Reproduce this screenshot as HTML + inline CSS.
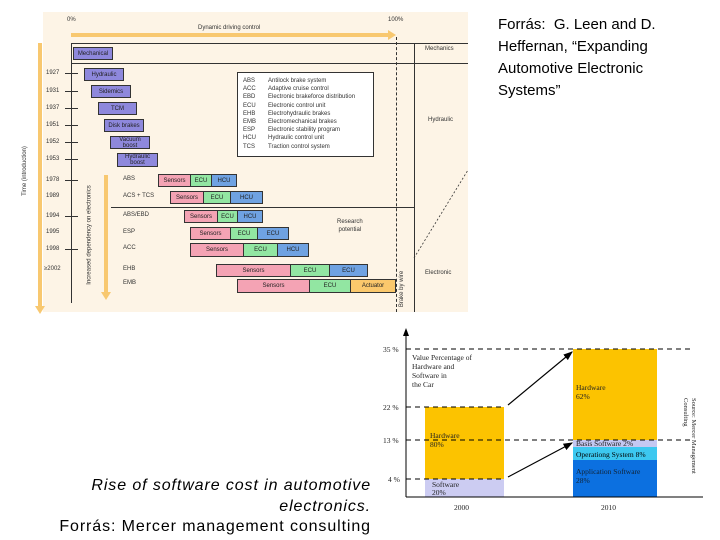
<!DOCTYPE html>
<html><head><meta charset="utf-8"><style>
*{margin:0;padding:0;box-sizing:border-box}
body{width:720px;height:540px;background:#fff;position:relative;overflow:hidden;font-family:"Liberation Sans",sans-serif}
.a{position:absolute}
.b{position:absolute;border:1px solid #333;font-size:6px;display:flex;align-items:center;justify-content:center;color:#222;line-height:6px;text-align:center}
.p{background:#8e88dc}.s{background:#f4a3b4}.g{background:#92e6a2}.u{background:#6fa2e2}.o{background:#fbc86c}
.t{position:absolute;font-size:6px;color:#333;white-space:nowrap}
</style></head><body>
<div class="a" style="left:43px;top:12px;width:425px;height:300px;background:#fdf4e6"></div>
<div class="t" style="left:67px;top:17px">0%</div>
<div class="t" style="left:388px;top:17px">100%</div>
<div class="t" style="left:198px;top:25px">Dynamic driving control</div>
<div class="a" style="left:71px;top:33px;width:318px;height:4px;background:#f8c870"></div>
<div class="a" style="left:388px;top:30px;width:0;height:0;border-left:8px solid #f8c870;border-top:5px solid transparent;border-bottom:5px solid transparent"></div>
<div class="a" style="left:71px;top:43px;width:397px;height:1px;background:#333"></div>
<div class="a" style="left:71px;top:63px;width:397px;height:1px;background:#333"></div>
<div class="a" style="left:71px;top:43px;width:1px;height:260px;background:#333"></div>
<div class="a" style="left:414px;top:43px;width:1px;height:269px;background:#333"></div>
<div class="a" style="left:396px;top:37px;width:0;height:275px;border-left:1px dashed #333"></div>
<div class="a" style="left:111px;top:207px;width:303px;height:1px;background:#333"></div>
<svg class="a" style="left:0;top:0" width="470" height="320"><line x1="414" y1="258" x2="468" y2="170" stroke="#333" stroke-width="0.8" stroke-dasharray="2,2"/></svg>
<div class="t" style="left:425px;top:46px">Mechanics</div>
<div class="t" style="left:428px;top:117px">Hydraulic</div>
<div class="t" style="left:425px;top:270px">Electronic</div>
<div class="t" style="left:337px;top:218px;text-align:center;line-height:8px">Research<br>potential</div>
<div class="t" style="left:384px;top:286px;transform:rotate(-90deg)">Brake by wire</div>
<div class="a" style="left:38px;top:43px;width:4px;height:264px;background:#f8c870"></div>
<div class="a" style="left:35px;top:306px;border-top:8px solid #f8c870;border-left:5px solid transparent;border-right:5px solid transparent"></div>
<div class="t" style="left:0px;top:168px;transform:rotate(-90deg)">Time (introduction)</div>
<div class="a" style="left:104px;top:175px;width:4px;height:118px;background:#f8c870"></div>
<div class="a" style="left:101px;top:292px;border-top:8px solid #f8c870;border-left:5px solid transparent;border-right:5px solid transparent"></div>
<div class="t" style="left:40px;top:232px;transform:rotate(-90deg)">Increased dependency on electronics</div>
<div class="t" style="left:46px;top:70px">1927</div><div class="a" style="left:65px;top:73px;width:13px;height:1px;background:#333"></div>
<div class="t" style="left:46px;top:88px">1931</div><div class="a" style="left:65px;top:91px;width:13px;height:1px;background:#333"></div>
<div class="t" style="left:46px;top:105px">1937</div><div class="a" style="left:65px;top:108px;width:13px;height:1px;background:#333"></div>
<div class="t" style="left:46px;top:122px">1951</div><div class="a" style="left:65px;top:125px;width:13px;height:1px;background:#333"></div>
<div class="t" style="left:46px;top:139px">1952</div><div class="a" style="left:65px;top:142px;width:13px;height:1px;background:#333"></div>
<div class="t" style="left:46px;top:156px">1953</div><div class="a" style="left:65px;top:159px;width:13px;height:1px;background:#333"></div>
<div class="t" style="left:46px;top:177px">1978</div><div class="a" style="left:65px;top:180px;width:13px;height:1px;background:#333"></div>
<div class="t" style="left:46px;top:193px">1989</div>
<div class="t" style="left:46px;top:213px">1994</div><div class="a" style="left:65px;top:216px;width:13px;height:1px;background:#333"></div>
<div class="t" style="left:46px;top:229px">1995</div>
<div class="t" style="left:46px;top:246px">1998</div><div class="a" style="left:65px;top:249px;width:13px;height:1px;background:#333"></div>
<div class="t" style="left:44px;top:266px">≥2002</div>
<div class="b p" style="left:73px;top:47px;width:40px;height:13px">Mechanical</div>
<div class="b p" style="left:84px;top:68px;width:40px;height:13px">Hydraulic</div>
<div class="b p" style="left:91px;top:85px;width:40px;height:13px">Sidemics</div>
<div class="b p" style="left:98px;top:102px;width:39px;height:13px">TCM</div>
<div class="b p" style="left:104px;top:119px;width:40px;height:13px">Disk brakes</div>
<div class="b p" style="left:110px;top:136px;width:40px;height:13px">Vacuum<br>boost</div>
<div class="b p" style="left:117px;top:153px;width:41px;height:14px">Hydraulic<br>boost</div>
<div class="a" style="left:237px;top:72px;width:137px;height:85px;border:1px solid #333;background:#fff;font-size:6px;line-height:8.2px;padding:4px 0 0 5px;color:#333">
<div style="display:flex"><div style="width:25px">ABS<br>ACC<br>EBD<br>ECU<br>EHB<br>EMB<br>ESP<br>HCU<br>TCS</div><div>Antilock brake system<br>Adaptive cruise control<br>Electronic brakeforce distribution<br>Electronic control unit<br>Electrohydraulic brakes<br>Electromechanical brakes<br>Electronic stability program<br>Hydraulic control unit<br>Traction control system</div></div></div>
<div class="t" style="left:123px;top:176px">ABS</div>
<div class="t" style="left:123px;top:193px">ACS + TCS</div>
<div class="t" style="left:123px;top:212px">ABS/EBD</div>
<div class="t" style="left:123px;top:229px">ESP</div>
<div class="t" style="left:123px;top:245px">ACC</div>
<div class="t" style="left:123px;top:266px">EHB</div>
<div class="t" style="left:123px;top:280px">EMB</div>
<div class="b s" style="left:158px;top:174px;width:33px;height:13px">Sensors</div><div class="b g" style="left:190px;top:174px;width:22px;height:13px">ECU</div><div class="b u" style="left:211px;top:174px;width:26px;height:13px">HCU</div>
<div class="b s" style="left:170px;top:191px;width:34px;height:13px">Sensors</div><div class="b g" style="left:203px;top:191px;width:28px;height:13px">ECU</div><div class="b u" style="left:230px;top:191px;width:33px;height:13px">HCU</div>
<div class="b s" style="left:184px;top:210px;width:34px;height:13px">Sensors</div><div class="b g" style="left:217px;top:210px;width:21px;height:13px">ECU</div><div class="b u" style="left:237px;top:210px;width:26px;height:13px">HCU</div>
<div class="b s" style="left:190px;top:227px;width:41px;height:13px">Sensors</div><div class="b g" style="left:230px;top:227px;width:28px;height:13px">ECU</div><div class="b u" style="left:257px;top:227px;width:32px;height:13px">ECU</div>
<div class="b s" style="left:190px;top:243px;width:54px;height:14px">Sensors</div><div class="b g" style="left:243px;top:243px;width:35px;height:14px">ECU</div><div class="b u" style="left:277px;top:243px;width:32px;height:14px">HCU</div>
<div class="b s" style="left:216px;top:264px;width:75px;height:13px">Sensors</div><div class="b g" style="left:290px;top:264px;width:40px;height:13px">ECU</div><div class="b u" style="left:329px;top:264px;width:39px;height:13px">ECU</div>
<div class="b s" style="left:237px;top:279px;width:73px;height:14px">Sensors</div><div class="b g" style="left:309px;top:279px;width:42px;height:14px">ECU</div><div class="b o" style="left:350px;top:279px;width:46px;height:14px">Actuator</div>
<div class="a" style="left:498px;top:14px;font-size:15px;line-height:22px;color:#000">Forrás:&nbsp; G. Leen and D.<br>Heffernan, “Expanding<br>Automotive Electronic<br>Systems”</div>
<svg class="a" style="left:0;top:0" width="720" height="540" font-family="Liberation Serif,serif">
<defs><marker id="ar" markerWidth="8" markerHeight="8" refX="7" refY="4" orient="auto"><path d="M0,1 L8,4 L0,7z" fill="#000"/></marker></defs>
<rect x="425" y="407" width="79" height="72" fill="#fcc300"/>
<rect x="425" y="479" width="79" height="18" fill="#ccccf2"/>
<rect x="573" y="349" width="84" height="91" fill="#fcc300"/>
<rect x="573" y="440" width="84" height="7" fill="#c4c8f2"/>
<rect x="573" y="447" width="84" height="13" fill="#3cc8f0"/>
<rect x="573" y="460" width="84" height="37" fill="#0c70e0"/>
<line x1="406" y1="330" x2="406" y2="497" stroke="#000"/>
<path d="M403,336 L406,328 L409,336z" fill="#000"/>
<line x1="406" y1="497" x2="703" y2="497" stroke="#000"/>
<g stroke="#000" stroke-dasharray="5,4" stroke-width="1">
<line x1="406" y1="349" x2="690" y2="349"/>
<line x1="406" y1="407" x2="504" y2="407"/>
<line x1="406" y1="440" x2="690" y2="440"/>
<line x1="406" y1="479" x2="504" y2="479"/>
</g>
<line x1="508" y1="405" x2="572" y2="352" stroke="#000" stroke-width="1.2" marker-end="url(#ar)"/>
<line x1="508" y1="477" x2="572" y2="443" stroke="#000" stroke-width="1.2" marker-end="url(#ar)"/>
<g font-size="7.5" fill="#222">
<text x="383" y="352">35 %</text><text x="383" y="410">22 %</text><text x="383" y="443">13 %</text><text x="388" y="482">4 %</text>
<text x="412" y="360">Value Percentage of</text><text x="412" y="369">Hardware and</text><text x="412" y="378">Software in</text><text x="412" y="387">the Car</text>
<text x="430" y="438">Hardware</text><text x="430" y="447">80%</text>
<text x="432" y="487">Software</text><text x="432" y="495">20%</text>
<text x="576" y="390">Hardware</text><text x="576" y="399">62%</text>
<text x="576" y="446">Basis Software 2%</text>
<text x="576" y="457" fill="#000">Operationg System 8%</text>
<text x="576" y="474" fill="#123">Application Software</text><text x="576" y="483" fill="#123">28%</text>
<text x="454" y="510">2000</text><text x="601" y="510">2010</text>
<text transform="translate(692,398) rotate(90)" font-size="6.5">Source: Mercer Management</text>
<text transform="translate(684,398) rotate(90)" font-size="6.5">Consulting</text>
</g>
</svg>
<div class="a" style="right:349px;top:476px;font-size:16px;letter-spacing:0.9px;line-height:20.5px;text-align:right;color:#000;white-space:nowrap"><i>Rise of software cost in automotive<br>electronics.</i><br>Forrás: Mercer management consulting</div>
</body></html>
